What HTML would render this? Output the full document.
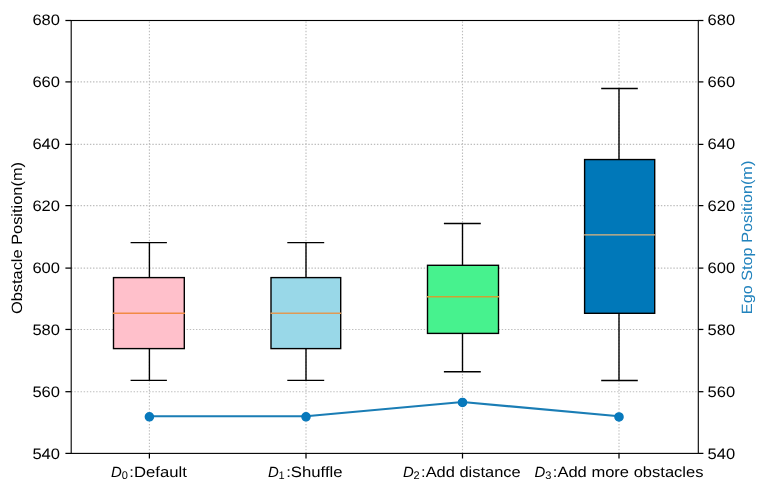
<!DOCTYPE html><html><head><meta charset="utf-8"><style>html,body{margin:0;padding:0;background:#fff;}svg{display:block;}text{font-family:"Liberation Sans",sans-serif;text-rendering:geometricPrecision;}</style></head><body><svg width="765" height="491" viewBox="0 0 765 491" style="will-change:transform"><rect x="0" y="0" width="765" height="491" fill="#fff"/><g stroke="#bdbdbd" stroke-width="1.11" stroke-dasharray="1.4 1.72" fill="none"><line x1="71.2" y1="391.70" x2="698.3" y2="391.70"/><line x1="71.2" y1="329.45" x2="698.3" y2="329.45"/><line x1="71.2" y1="268.10" x2="698.3" y2="268.10"/><line x1="71.2" y1="205.60" x2="698.3" y2="205.60"/><line x1="71.2" y1="144.40" x2="698.3" y2="144.40"/><line x1="71.2" y1="81.90" x2="698.3" y2="81.90"/><line x1="149.40" y1="453.4" x2="149.40" y2="20.5"/><line x1="306.00" y1="453.4" x2="306.00" y2="20.5"/><line x1="462.50" y1="453.4" x2="462.50" y2="20.5"/><line x1="619.00" y1="453.4" x2="619.00" y2="20.5"/></g><g stroke="#000" stroke-width="1.39" fill="none"><line x1="149.40" y1="348.60" x2="149.40" y2="380.40"/><line x1="149.40" y1="277.60" x2="149.40" y2="242.60"/><line x1="130.60" y1="380.40" x2="166.90" y2="380.40"/><line x1="130.60" y1="242.60" x2="166.90" y2="242.60"/><rect x="113.50" y="277.60" width="70.80" height="71.00" fill="#ffc0cb"/></g><line x1="112.90" y1="313.30" x2="184.90" y2="313.30" stroke="#f28a45" stroke-width="1.39"/><g stroke="#000" stroke-width="1.39" fill="none"><line x1="306.00" y1="348.60" x2="306.00" y2="380.40"/><line x1="306.00" y1="277.60" x2="306.00" y2="242.60"/><line x1="287.30" y1="380.40" x2="324.20" y2="380.40"/><line x1="287.30" y1="242.60" x2="324.20" y2="242.60"/><rect x="271.00" y="277.60" width="69.70" height="71.00" fill="#99d8e8"/></g><line x1="270.40" y1="313.30" x2="341.30" y2="313.30" stroke="#e09a55" stroke-width="1.39"/><g stroke="#000" stroke-width="1.39" fill="none"><line x1="462.50" y1="333.40" x2="462.50" y2="371.75"/><line x1="462.50" y1="265.30" x2="462.50" y2="223.50"/><line x1="443.90" y1="371.75" x2="480.80" y2="371.75"/><line x1="443.90" y1="223.50" x2="480.80" y2="223.50"/><rect x="427.50" y="265.30" width="71.00" height="68.10" fill="#47f28e"/></g><line x1="426.90" y1="296.75" x2="499.10" y2="296.75" stroke="#cfa232" stroke-width="1.39"/><g stroke="#000" stroke-width="1.39" fill="none"><line x1="619.00" y1="313.30" x2="619.00" y2="380.50"/><line x1="619.00" y1="159.56" x2="619.00" y2="88.50"/><line x1="601.20" y1="380.50" x2="637.80" y2="380.50"/><line x1="601.20" y1="88.50" x2="637.80" y2="88.50"/><rect x="584.60" y="159.56" width="70.10" height="153.74" fill="#0078b9"/></g><line x1="584.00" y1="234.90" x2="655.30" y2="234.90" stroke="#e2b47c" stroke-width="1.39"/><polyline points="149.40,416.20 306.00,416.20 462.50,402.00 619.00,416.30" fill="none" stroke="#1a7db5" stroke-width="2.08" stroke-linejoin="round" stroke-linecap="butt"/><circle cx="149.40" cy="416.80" r="4.1" fill="#0879bc" stroke="#0879bc" stroke-width="1.39"/><circle cx="306.00" cy="416.80" r="4.1" fill="#0879bc" stroke="#0879bc" stroke-width="1.39"/><circle cx="462.50" cy="402.45" r="4.1" fill="#0879bc" stroke="#0879bc" stroke-width="1.39"/><circle cx="619.00" cy="416.95" r="4.1" fill="#0879bc" stroke="#0879bc" stroke-width="1.39"/><rect x="71.2" y="20.5" width="627.10" height="432.90" fill="none" stroke="#000" stroke-width="1.11"/><g stroke="#000" stroke-width="1.25"><line x1="65.4" y1="453.40" x2="71.2" y2="453.40"/><line x1="698.3" y1="453.40" x2="703.40" y2="453.40"/><line x1="65.4" y1="391.70" x2="71.2" y2="391.70"/><line x1="698.3" y1="391.70" x2="703.40" y2="391.70"/><line x1="65.4" y1="329.45" x2="71.2" y2="329.45"/><line x1="698.3" y1="329.45" x2="703.40" y2="329.45"/><line x1="65.4" y1="268.10" x2="71.2" y2="268.10"/><line x1="698.3" y1="268.10" x2="703.40" y2="268.10"/><line x1="65.4" y1="205.60" x2="71.2" y2="205.60"/><line x1="698.3" y1="205.60" x2="703.40" y2="205.60"/><line x1="65.4" y1="144.40" x2="71.2" y2="144.40"/><line x1="698.3" y1="144.40" x2="703.40" y2="144.40"/><line x1="65.4" y1="81.90" x2="71.2" y2="81.90"/><line x1="698.3" y1="81.90" x2="703.40" y2="81.90"/><line x1="65.4" y1="20.50" x2="71.2" y2="20.50"/><line x1="698.3" y1="20.50" x2="703.40" y2="20.50"/><line x1="149.40" y1="453.4" x2="149.40" y2="458.50"/><line x1="306.00" y1="453.4" x2="306.00" y2="458.50"/><line x1="462.50" y1="453.4" x2="462.50" y2="458.50"/><line x1="619.00" y1="453.4" x2="619.00" y2="458.50"/></g><g font-size="15.2" fill="#000"><text x="60.00" y="458.85" text-anchor="end" textLength="27.6" lengthAdjust="spacingAndGlyphs">540</text><text x="707.50" y="458.85" textLength="27.6" lengthAdjust="spacingAndGlyphs">540</text><text x="60.00" y="396.55" text-anchor="end" textLength="27.6" lengthAdjust="spacingAndGlyphs">560</text><text x="707.50" y="396.55" textLength="27.6" lengthAdjust="spacingAndGlyphs">560</text><text x="60.00" y="335.15" text-anchor="end" textLength="27.6" lengthAdjust="spacingAndGlyphs">580</text><text x="707.50" y="335.15" textLength="27.6" lengthAdjust="spacingAndGlyphs">580</text><text x="60.00" y="272.65" text-anchor="end" textLength="27.6" lengthAdjust="spacingAndGlyphs">600</text><text x="707.50" y="272.65" textLength="27.6" lengthAdjust="spacingAndGlyphs">600</text><text x="60.00" y="211.45" text-anchor="end" textLength="27.6" lengthAdjust="spacingAndGlyphs">620</text><text x="707.50" y="211.45" textLength="27.6" lengthAdjust="spacingAndGlyphs">620</text><text x="60.00" y="148.65" text-anchor="end" textLength="27.6" lengthAdjust="spacingAndGlyphs">640</text><text x="707.50" y="148.65" textLength="27.6" lengthAdjust="spacingAndGlyphs">640</text><text x="60.00" y="87.30" text-anchor="end" textLength="27.6" lengthAdjust="spacingAndGlyphs">660</text><text x="707.50" y="87.30" textLength="27.6" lengthAdjust="spacingAndGlyphs">660</text><text x="60.00" y="25.10" text-anchor="end" textLength="27.6" lengthAdjust="spacingAndGlyphs">680</text><text x="707.50" y="25.10" textLength="27.6" lengthAdjust="spacingAndGlyphs">680</text></g><text x="111.10" y="477.1" font-size="14.9" font-style="italic">D</text><text x="121.70" y="478.90" font-size="11.03">0</text><text x="129.30" y="477.1" font-size="14.9" textLength="57.50" lengthAdjust="spacingAndGlyphs">:Default</text><text x="268.00" y="477.1" font-size="14.9" font-style="italic">D</text><text x="278.60" y="478.90" font-size="11.03">1</text><text x="286.20" y="477.1" font-size="14.9" textLength="56.40" lengthAdjust="spacingAndGlyphs">:Shuffle</text><text x="402.90" y="477.1" font-size="14.9" font-style="italic">D</text><text x="413.50" y="478.90" font-size="11.03">2</text><text x="421.10" y="477.1" font-size="14.9" textLength="99.60" lengthAdjust="spacingAndGlyphs">:Add distance</text><text x="534.60" y="477.1" font-size="14.9" font-style="italic">D</text><text x="545.20" y="478.90" font-size="11.03">3</text><text x="552.80" y="477.1" font-size="14.9" textLength="150.70" lengthAdjust="spacingAndGlyphs">:Add more obstacles</text><text transform="translate(21.7,238.05) rotate(-90)" text-anchor="middle" font-size="14.9" textLength="152.05" lengthAdjust="spacingAndGlyphs">Obstacle Position(m)</text><text transform="translate(751.6,237.45) rotate(-90)" text-anchor="middle" font-size="14.9" fill="#2283bd" textLength="153.5" lengthAdjust="spacingAndGlyphs">Ego Stop Position(m)</text></svg></body></html>
